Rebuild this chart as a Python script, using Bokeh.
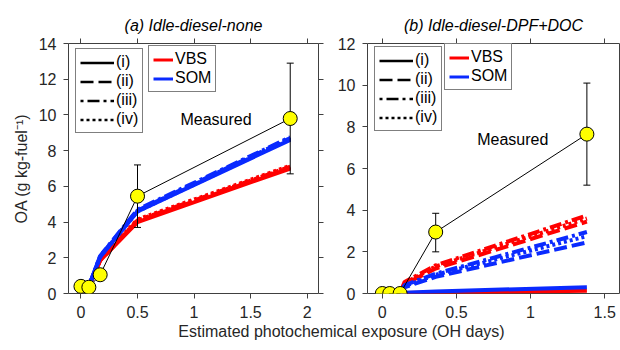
from bokeh.plotting import figure
from bokeh.models import (Range1d, LinearAxis, FixedTicker, NumeralTickFormatter,
                          CustomJSTickFormatter, Legend, LegendItem, Label)
from bokeh.layouts import row, column
from bokeh.embed import file_html
from bokeh.resources import INLINE

FONT = "Liberation Sans"
AX = "#404040"
RED = "#ff0000"
BLUE = "#0a2aff"
YEL = "#ffff00"
NAN = float("nan")

style_labels = ["(i)", "(ii)", "(iii)", "(iv)"]
style_dash = ["solid", "13 5", "3 4 12 4", "3 3"]
model_labels = ["VBS", "SOM"]

# ---------------- panel (a) Idle-diesel-none ----------------
a_title = "(a) Idle-diesel-none"
a_meas_x = [0.0, 0.07, 0.17, 0.50, 1.85]
a_meas_y = [0.40, 0.35, 1.05, 5.45, 9.80]
a_err_x = [0.50, 1.85]
a_err_lo = [3.70, 6.70]
a_err_hi = [7.20, 12.90]
a_model_x = [0.07, 0.17, 0.50, 1.85]
a_vbs_i = [0.40, 1.85, 4.00, 7.00]
a_vbs_ii = [0.40, 1.85, 4.05, 7.05]
a_vbs_iii = [0.40, 1.90, 4.10, 7.10]
a_vbs_iv = [0.40, 1.90, 4.15, 7.15]
a_som_i = [0.40, 2.05, 4.60, 8.60]
a_som_ii = [0.40, 2.10, 4.65, 8.70]
a_som_iii = [0.40, 2.10, 4.70, 8.75]
a_som_iv = [0.40, 2.05, 4.60, 8.65]
a_xticks = [0, 0.5, 1, 1.5, 2]
a_yticks = [0, 2, 4, 6, 8, 10, 12, 14]

# ---------------- panel (b) Idle-diesel-DPF+DOC ----------------
b_title = "(b) Idle-diesel-DPF+DOC"
b_meas_x = [0.0, 0.05, 0.12, 0.36, 1.38]
b_meas_y = [0.0, 0.0, 0.0, 2.95, 7.65]
b_err_x = [0.36, 1.38]
b_err_lo = [2.00, 5.20]
b_err_hi = [3.85, 10.10]
b_model_x = [0.12, 0.15, 0.36, 1.38]
b_vbs_i = [0.0, 0.02, 0.05, 0.13]
b_vbs_ii = [0.0, 0.45, 1.20, 3.45]
b_vbs_iii = [0.0, 0.55, 1.35, 3.75]
b_vbs_iv = [0.0, 0.50, 1.30, 3.60]
b_som_i = [0.0, 0.04, 0.10, 0.30]
b_som_ii = [0.0, 0.30, 0.80, 2.45]
b_som_iii = [0.0, 0.40, 0.95, 2.95]
b_som_iv = [0.0, 0.35, 0.90, 2.75]
b_xticks = [0, 0.5, 1, 1.5]
b_yticks = [0, 2, 4, 6, 8, 10, 12]

x_label = "Estimated photochemical exposure (OH days)"
y_label = "OA (g kg-fuel\u207b\u00b9)"
meas_label = "Measured"


def style_axis(ax, ticks, fmt=True):
    ax.ticker = FixedTicker(ticks=ticks)
    if fmt:
        ax.formatter = NumeralTickFormatter(format="0.[0]")
    ax.major_tick_out = 5
    ax.major_tick_in = 0
    ax.minor_tick_out = 0
    ax.minor_tick_in = 0
    ax.axis_line_color = None
    ax.major_tick_line_color = AX
    ax.major_label_text_font = FONT
    ax.major_label_text_font_size = "16px"
    ax.major_label_text_color = "#262626"


def make_panel(title, width, mbl, mbr, xr, yr, xticks, yticks,
               mx, my, ex, elo, ehi, modx, vbs, som, meas_xy,
               leg1_loc, leg2_loc, ylab, right_ticks):
    p = figure(width=width, height=320, x_range=Range1d(*xr), y_range=Range1d(*yr),
               output_backend="svg", toolbar_location=None,
               min_border_left=mbl, min_border_right=mbr,
               min_border_top=43, min_border_bottom=27)
    p.xgrid.visible = False
    p.ygrid.visible = False
    p.outline_line_color = AX
    p.outline_line_width = 1
    p.background_fill_color = "white"
    p.border_fill_color = "white"
    p.title.text = title
    p.title.text_font = FONT
    p.title.text_font_size = "16px"
    p.title.text_font_style = "italic"
    p.title.text_color = "black"
    p.title.align = "center"

    style_axis(p.xaxis[0], xticks)
    p.xaxis[0].major_label_standoff = 7
    style_axis(p.yaxis[0], yticks)
    p.yaxis[0].major_label_standoff = 7
    if ylab:
        p.yaxis[0].axis_label = ylab
        p.yaxis[0].axis_label_text_font = FONT
        p.yaxis[0].axis_label_text_font_size = "16px"
        p.yaxis[0].axis_label_text_font_style = "normal"
        p.yaxis[0].axis_label_text_color = "#262626"
        p.yaxis[0].axis_label_standoff = 6

    empty = CustomJSTickFormatter(code="return ''")
    top = LinearAxis()
    style_axis(top, xticks, fmt=False)
    top.formatter = empty
    top.major_label_standoff = 0
    p.add_layout(top, "above")
    if right_ticks:
        rt = LinearAxis()
        style_axis(rt, yticks, fmt=False)
        rt.formatter = empty
        rt.major_label_standoff = 0
        p.add_layout(rt, "right")

    # model curves
    for ys, dash in zip(vbs, style_dash):
        p.line(modx, ys, line_color=RED, line_width=4, line_dash=dash)
    for ys, dash in zip(som, style_dash):
        p.line(modx, ys, line_color=BLUE, line_width=4, line_dash=dash)

    # measured
    p.line(mx, my, line_color="black", line_width=1)
    p.segment(x0=ex, y0=elo, x1=ex, y1=ehi, line_color="black", line_width=1)
    p.scatter(ex, elo, marker="dash", size=7, line_color="black", line_width=1)
    p.scatter(ex, ehi, marker="dash", size=7, line_color="black", line_width=1)
    p.scatter(mx, my, size=14, fill_color=YEL, line_color="black", line_width=1)

    p.add_layout(Label(x=meas_xy[0], y=meas_xy[1], text=meas_label,
                       text_font=FONT, text_font_size="16px", text_color="black",
                       text_baseline="middle", text_align="left"))

    # legends (legend-only renderers hold no visible data)
    items1 = []
    for lab, dash in zip(style_labels, style_dash):
        r = p.line(x=[NAN, NAN], y=[NAN, NAN], line_color="black", line_width=2.5,
                   line_dash=dash)
        items1.append(LegendItem(label=lab, renderers=[r]))
    items2 = []
    for lab, col in zip(model_labels, [RED, BLUE]):
        r = p.line(x=[NAN, NAN], y=[NAN, NAN], line_color=col, line_width=3)
        items2.append(LegendItem(label=lab, renderers=[r]))
    for items, loc, gw in [(items1, leg1_loc, 34), (items2, leg2_loc, 20)]:
        lg = Legend(items=items, location=loc, orientation="vertical",
                    glyph_width=gw, glyph_height=17, label_height=17,
                    label_standoff=2, spacing=1, padding=4, margin=0,
                    label_text_font=FONT, label_text_font_size="16px",
                    label_text_color="black", label_text_baseline="middle",
                    border_line_color="black", border_line_width=1,
                    background_fill_color="white", background_fill_alpha=1)
        p.add_layout(lg)
    return p


pa = make_panel(a_title, 326, 68, 8, (-0.11, 2.1), (0, 14), a_xticks, a_yticks,
                a_meas_x, a_meas_y, a_err_x, a_err_lo, a_err_hi, a_model_x,
                [a_vbs_i, a_vbs_ii, a_vbs_iii, a_vbs_iv],
                [a_som_i, a_som_ii, a_som_iii, a_som_iv],
                (0.88, 9.75), (7, 160), (80, 201), y_label, True)
pb = make_panel(b_title, 294, 41, 1, (-0.1, 1.6), (0, 12), b_xticks, b_yticks,
                b_meas_x, b_meas_y, b_err_x, b_err_lo, b_err_hi, b_model_x,
                [b_vbs_i, b_vbs_ii, b_vbs_iii, b_vbs_iv],
                [b_som_i, b_som_ii, b_som_iii, b_som_iv],
                (0.64, 7.4), (7, 162), (77, 203), None, False)

pc = figure(width=620, height=30, x_range=Range1d(0, 620), y_range=Range1d(0, 30),
            output_backend="svg", toolbar_location=None, min_border=0,
            x_axis_type=None, y_axis_type=None)
pc.outline_line_color = None
pc.add_layout(Label(x=341, y=19, text=x_label, text_font=FONT, text_font_size="16px",
                    text_color="#262626", text_align="center", text_baseline="middle"))

layout = column(row(pa, pb, spacing=0), pc, spacing=0)
open("out.html", "w").write(file_html(layout, INLINE))
